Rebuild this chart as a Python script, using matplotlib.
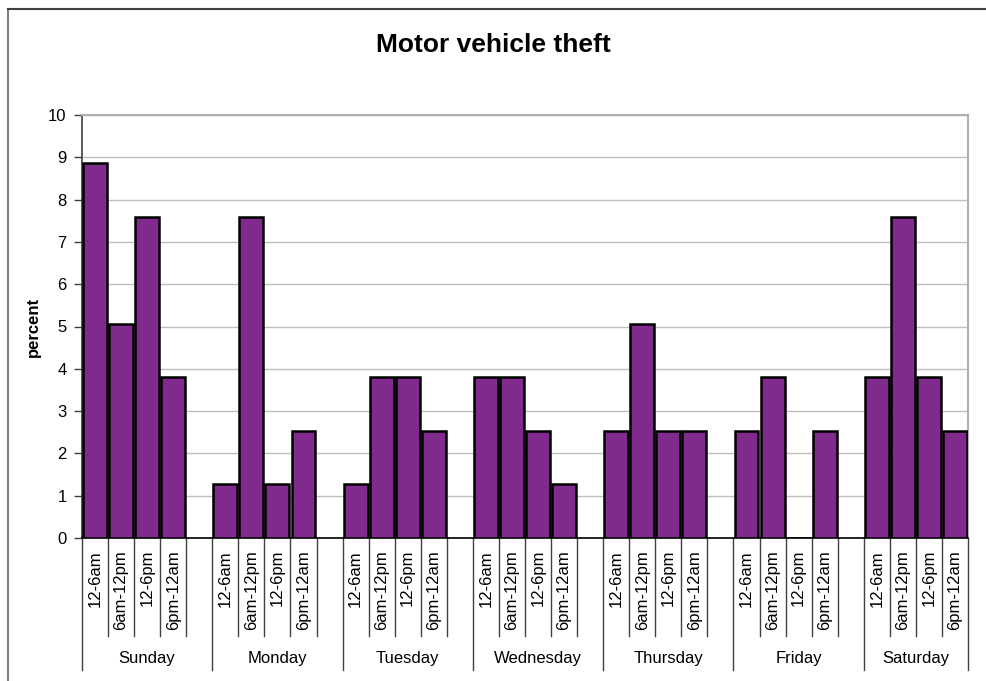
import numpy as np
import matplotlib.pyplot as plt
from matplotlib.lines import Line2D
import matplotlib.transforms as mtransforms

plt.rcParams['font.family'] = ['Liberation Sans', 'DejaVu Sans']

# Data
days = ['Sunday', 'Monday', 'Tuesday', 'Wednesday', 'Thursday', 'Friday', 'Saturday']
slots = ['12-6am', '6am-12pm', '12-6pm', '6pm-12am']
sunday = [8.86, 5.06, 7.59, 3.80]
monday = [1.27, 7.59, 1.27, 2.53]
tuesday = [1.27, 3.80, 3.80, 2.53]
wednesday = [3.80, 3.80, 2.53, 1.27]
thursday = [2.53, 5.06, 2.53, 2.53]
friday = [2.53, 3.80, 0.0, 2.53]
saturday = [3.80, 7.59, 3.80, 2.53]
values = [sunday, monday, tuesday, wednesday, thursday, friday, saturday]

bar_color = '#7f2a8c'

fig = plt.figure(figsize=(9.86, 6.81), dpi=100)
ax = fig.add_axes([82 / 986, 1 - 538 / 681, (968 - 82) / 986, (538 - 115) / 681])

# each day takes 5 slots (4 bars + a blank), last day has no blank
x_all = []
h_all = []
for d, vals in enumerate(values):
    for s, v in enumerate(vals):
        x_all.append(d * 5 + s)
        h_all.append(v)
ax.bar(x_all, h_all, width=0.92, color=bar_color, edgecolor='black', linewidth=1.8, zorder=3)

ax.set_xlim(-0.5, 33.5)
ax.set_ylim(0, 10)
ax.set_yticks(range(0, 11))
ax.tick_params(axis='y', labelsize=12, length=6, width=1, color='#404040', pad=5)
ax.set_xticks([])
ax.yaxis.grid(True, color='#c0c0c0', linewidth=1)
ax.set_axisbelow(True)
for side in ['top', 'right']:
    ax.spines[side].set_color('#b0b0b0')
    ax.spines[side].set_linewidth(1.5)
ax.spines['left'].set_color('#404040')
ax.spines['left'].set_linewidth(1.2)
ax.spines['bottom'].set_color('black')
ax.spines['bottom'].set_linewidth(1.2)
fig.text(33 / 986, 1 - 327 / 681, 'percent', rotation=90, ha='center', va='center',
         fontsize=12, fontweight='bold')

# multi-level category axis
trans = mtransforms.blended_transform_factory(ax.transData, ax.transAxes)
short_y = (538 - 636) / 423
long_y = (538 - 670) / 423
for d in range(len(days)):
    n = 4 if d == len(days) - 1 else 5
    start = d * 5 - 0.5
    for k in range(1, n):
        ax.add_line(Line2D([start + k, start + k], [0, short_y], transform=trans,
                           color='#404040', lw=1, clip_on=False))
    ax.add_line(Line2D([start, start], [0, long_y], transform=trans,
                       color='#404040', lw=1, clip_on=False))
    for s, lab in enumerate(slots):
        ax.text(d * 5 + s, (538 - 550) / 423, lab, transform=trans, rotation=90,
                ha='center', va='top', fontsize=12)
    ax.text(start + n / 2, (538 - 659) / 423, days[d], transform=trans,
            ha='center', va='center', fontsize=12)
ax.add_line(Line2D([33.5, 33.5], [0, long_y], transform=trans,
                   color='#404040', lw=1, clip_on=False))

fig.text(0.5, 1 - 45 / 681, 'Motor vehicle theft', ha='center', va='center',
         fontsize=19, fontweight='bold')

# outer chart frame
fig.add_artist(Line2D([8 / 986, 8 / 986], [0, 1 - 9 / 681], transform=fig.transFigure,
                      color='#808080', lw=1.5))
fig.add_artist(Line2D([8 / 986, 1], [1 - 9 / 681, 1 - 9 / 681], transform=fig.transFigure,
                      color='#404040', lw=1.5))

fig.savefig('out.png', dpi=100)
